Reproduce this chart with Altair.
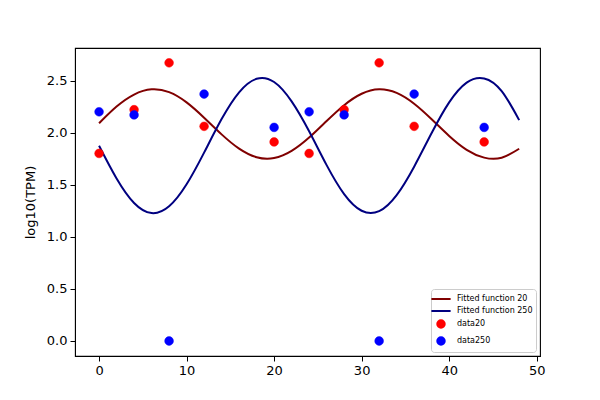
import altair as alt
import pandas as pd

# scatter data (hours, log10 TPM)
data_x = [0, 4, 8, 12, 20, 24, 28, 32, 36, 44]
data20 = [1.80, 2.22, 2.67, 2.06, 1.91, 1.80, 2.22, 2.67, 2.06, 1.91]
data250 = [2.20, 2.17, 0.0, 2.37, 2.05, 2.20, 2.17, 0.0, 2.37, 2.05]

# fitted curves
fit_x = [0, 2, 4, 6, 8, 10, 12, 14, 16, 18, 20, 22, 24, 26, 28, 30, 32, 34, 36, 38, 40, 42, 44, 46, 48]
fit20 = [2.09, 2.25, 2.365, 2.415, 2.388, 2.29, 2.143, 1.983, 1.846, 1.764, 1.756, 1.824, 1.952,
         2.111, 2.263, 2.373, 2.416, 2.381, 2.277, 2.128, 1.968, 1.835, 1.76, 1.759, 1.845]
fit250 = [1.874, 1.56, 1.325, 1.228, 1.293, 1.504, 1.808, 2.13, 2.387, 2.517, 2.486, 2.3, 2.013,
          1.688, 1.41, 1.25, 1.246, 1.4, 1.673, 1.996, 2.29, 2.48, 2.52, 2.398, 2.12]

labels = ["Fitted function 20", "Fitted function 250", "data20", "data250"]
colors = ["#800000", "#000080", "#ff0000", "#0000ff"]
line_path = "M-1.6,0H1.6"
dot_path = "M0.62,0A0.62,0.62,0,1,1,-0.62,0A0.62,0.62,0,1,1,0.62,0Z"
shapes = [line_path, line_path, dot_path, dot_path]

lines_df = pd.concat([
    pd.DataFrame({"x": fit_x, "y": fit20, "series": labels[0]}),
    pd.DataFrame({"x": fit_x, "y": fit250, "series": labels[1]}),
])
points_df = pd.concat([
    pd.DataFrame({"x": data_x, "y": data20, "series": labels[2]}),
    pd.DataFrame({"x": data_x, "y": data250, "series": labels[3]}),
])

xscale = alt.Scale(domain=[-2.75, 50.38], nice=False, zero=False)
yscale = alt.Scale(domain=[-0.144, 2.812], nice=False, zero=False)

legend = alt.Legend(
    title=None,
    orient="bottom-right",
    offset=4,
    labelFontSize=8,
    labelFont="DejaVu Sans",
    labelColor="#000",
    strokeColor="#cccccc",
    fillColor="white",
    padding=3,
    cornerRadius=3,
    rowPadding=1,
    symbolSize=144,
    symbolStrokeWidth=2,
    symbolOpacity=1,
    labelOffset=9,
)

cscale = alt.Scale(domain=labels, range=colors)
color = alt.Color("series:N", scale=cscale, legend=legend)
stroke = alt.Stroke("series:N", scale=cscale, legend=legend)
shape = alt.Shape("series:N", scale=alt.Scale(domain=labels, range=shapes), legend=legend)

xaxis = alt.Axis(values=[0, 10, 20, 30, 40, 50], title=None, grid=False, tickColor="#000",
                 domainColor="#000", labelColor="#000", labelFontSize=13, labelFont="DejaVu Sans",
                 tickSize=5, labelPadding=3)
yaxis = alt.Axis(values=[0, 0.5, 1.0, 1.5, 2.0, 2.5], format=".1f", title="log10(TPM)", grid=False,
                 tickColor="#000", domainColor="#000", labelColor="#000", labelFontSize=13,
                 labelFont="DejaVu Sans", tickSize=5, labelPadding=3, titleFontSize=13,
                 titleFont="DejaVu Sans", titleFontWeight="normal", titleColor="#000", titlePadding=9)

lines = alt.Chart(lines_df).mark_line(strokeWidth=2, interpolate="natural").encode(
    x=alt.X("x:Q", scale=xscale, axis=xaxis),
    y=alt.Y("y:Q", scale=yscale, axis=yaxis),
    color=color,
    detail="series:N",
)
points = alt.Chart(points_df).mark_point(filled=True, size=200, opacity=1, strokeWidth=0.5).encode(
    x=alt.X("x:Q", scale=xscale),
    y=alt.Y("y:Q", scale=yscale),
    color=color,
    stroke=stroke,
    shape=shape,
)

chart = alt.layer(lines, points).properties(
    width=465, height=308,
    autosize=alt.AutoSizeParams(type="none"),
    padding={"left": 67, "top": 40, "right": 52, "bottom": 36},
).configure(background="white").configure_view(stroke="#000", strokeWidth=1.1)

chart.save("out.html", embed_options={"renderer": "svg", "actions": False})
